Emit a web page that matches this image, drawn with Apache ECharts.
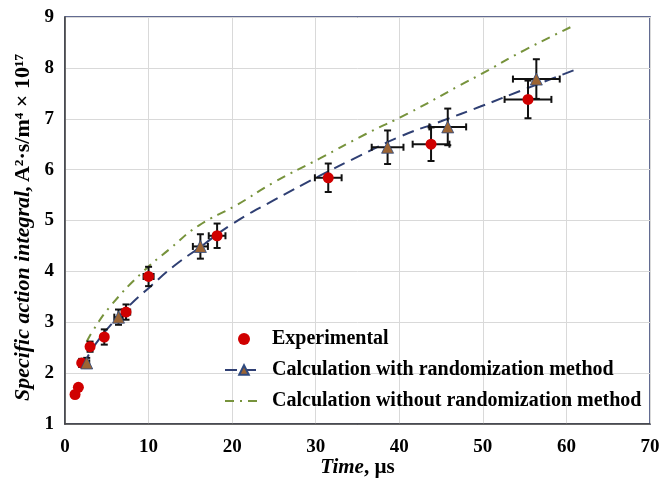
<!DOCTYPE html>
<html>
<head>
<meta charset="utf-8">
<script src="https://cdn.jsdelivr.net/npm/echarts@6/dist/echarts.min.js"></script>
<style>html,body{margin:0;padding:0;background:#fff}#c{width:660px;height:479px}</style>
</head>
<body>
<div id="c"></div>
<script>
// Experimental points: time (µs), value, x error, y error
const expX    = [1.2, 1.6, 2.0, 3.0, 4.7, 7.3, 10.0, 18.2, 31.5, 43.8, 55.4];
const expY    = [1.58, 1.72, 2.2, 2.52, 2.71, 3.2, 3.9, 4.7, 5.84, 6.5, 7.38];
const expXErr = [0.2, 0.2, 0.3, 0.3, 0.3, 0.5, 0.6, 1.0, 1.6, 2.2, 2.8];
const expYErr = [0.05, 0.05, 0.08, 0.1, 0.15, 0.15, 0.19, 0.24, 0.28, 0.33, 0.37];

// Calculation with randomization (triangles)
const triX    = [2.6, 6.4, 16.2, 38.6, 45.8, 56.4];
const triY    = [2.2, 3.1, 4.49, 6.44, 6.84, 7.78];
const triXErr = [0.3, 0.5, 0.9, 1.9, 2.2, 2.8];
const triYErr = [0.1, 0.15, 0.24, 0.33, 0.36, 0.39];

// Curve with randomization (dashed navy)
const withX = [2.2, 4.0, 7.6, 10.2, 13.0, 16.2, 19.9, 25.0, 30.5, 35.0, 40.1, 45.0, 49.7, 55.0, 61.0];
const withY = [2.16, 2.65, 3.31, 3.7, 4.1, 4.48, 4.92, 5.4, 5.88, 6.25, 6.65, 6.95, 7.24, 7.58, 7.96];

// Curve without randomization (dash-dot green)
const woX = [2.6, 3.4, 5.4, 9.25, 12.6, 16.0, 20.5, 25.0, 30.5, 36.0, 41.0, 47.3, 49.7, 55.0, 61.0];
const woY = [2.62, 2.85, 3.31, 3.98, 4.45, 4.9, 5.3, 5.75, 6.22, 6.7, 7.1, 7.66, 7.87, 8.35, 8.84];

const xTicks = [0, 10, 20, 30, 40, 50, 60, 70];
const yTicks = [1, 2, 3, 4, 5, 6, 7, 8, 9];

const FONT = '"Liberation Serif", "DejaVu Serif", serif';

function errData(xs, ys, exs, eys) {
  return xs.map((x, i) => [x, ys[i], exs[i], eys[i]]);
}
function errRender(params, api) {
  const x = api.value(0), y = api.value(1), ex = api.value(2), ey = api.value(3);
  const l = api.coord([x - ex, y]), r = api.coord([x + ex, y]);
  const t = api.coord([x, y + ey]), b = api.coord([x, y - ey]);
  const cap = 3.5;
  const st = { stroke: '#111', lineWidth: 2 };
  return {
    type: 'group',
    children: [
      { type: 'line', shape: { x1: l[0], y1: l[1], x2: r[0], y2: r[1] }, style: st },
      { type: 'line', shape: { x1: t[0], y1: t[1], x2: b[0], y2: b[1] }, style: st },
      { type: 'line', shape: { x1: l[0], y1: l[1] - cap, x2: l[0], y2: l[1] + cap }, style: st },
      { type: 'line', shape: { x1: r[0], y1: r[1] - cap, x2: r[0], y2: r[1] + cap }, style: st },
      { type: 'line', shape: { x1: t[0] - cap, y1: t[1], x2: t[0] + cap, y2: t[1] }, style: st },
      { type: 'line', shape: { x1: b[0] - cap, y1: b[1], x2: b[0] + cap, y2: b[1] }, style: st }
    ]
  };
}

const chart = echarts.init(document.getElementById('c'), null, { renderer: 'canvas' });
chart.setOption({
  animation: false,
  backgroundColor: '#fff',
  grid: { left: 65, right: 10, top: 17, bottom: 55, show: true, borderColor: '#2F3B6E', borderWidth: 1.5, backgroundColor: 'transparent', outerBoundsMode: 'none', containLabel: false },
  xAxis: {
    type: 'value', min: xTicks[0], max: xTicks[xTicks.length - 1], interval: 10,
    axisLine: { show: true, lineStyle: { color: '#404040', width: 1.5 } },
    axisTick: { show: false },
    splitLine: { show: true, lineStyle: { color: '#d9d9d9', width: 1 } },
    axisLabel: { margin: 14, color: '#000', fontFamily: FONT, fontWeight: 'bold', fontSize: 19 },
    name: '{i|Time}{n|, µs}', nameLocation: 'middle', nameGap: 33, nameMoveOverlap: false,
    nameTextStyle: { rich: {
      i: { fontFamily: FONT, fontStyle: 'italic', fontWeight: 'bold', fontSize: 21, lineHeight: 22, color: '#000' },
      n: { fontFamily: FONT, fontWeight: 'bold', fontSize: 21, lineHeight: 22, color: '#000' }
    } }
  },
  yAxis: {
    type: 'value', min: yTicks[0], max: yTicks[yTicks.length - 1], interval: 1,
    axisLine: { show: true, lineStyle: { color: '#404040', width: 1.5 } },
    axisTick: { show: false },
    splitLine: { show: true, lineStyle: { color: '#d9d9d9', width: 1 } },
    axisLabel: { margin: 11, color: '#000', fontFamily: FONT, fontWeight: 'bold', fontSize: 19 },
    name: '{i|Specific action integral,} {n|A²·s/m⁴ × 10¹⁷}', nameLocation: 'middle', nameGap: 31, nameMoveOverlap: false,
    nameTextStyle: { rich: {
      i: { fontFamily: FONT, fontStyle: 'italic', fontWeight: 'bold', fontSize: 22, color: '#000' },
      n: { fontFamily: FONT, fontWeight: 'bold', fontSize: 22, color: '#000', padding: [0, 14, 0, 0] }
    } }
  },
  legend: {
    orient: 'vertical', left: 224, top: 329, padding: 0,
    itemWidth: 38, itemHeight: 12, itemGap: 11,
    textStyle: { fontFamily: FONT, fontWeight: 'bold', fontSize: 20, color: '#000', padding: [0, 0, 0, 4] },
    data: [
      { name: 'Experimental', icon: 'circle' },
      'Calculation with randomization method',
      { name: 'Calculation without randomization method', itemStyle: { color: 'rgba(0,0,0,0)', borderColor: 'rgba(0,0,0,0)', borderWidth: 0 } }
    ]
  },
  series: [
    {
      name: 'Calculation without randomization method', type: 'line', smooth: true,
      data: woX.map((x, i) => [x, woY[i]]), symbol: 'none', z: 2,
      itemStyle: { color: '#77933C' },
      lineStyle: { color: '#77933C', width: 2, type: [9, 6, 2, 6] }
    },
    {
      name: 'Calculation with randomization method', type: 'line', smooth: true,
      data: withX.map((x, i) => ({ value: [x, withY[i]], symbol: 'none' })),
      symbol: 'triangle', symbolSize: 10, z: 2,
      itemStyle: { color: '#9C6433', borderColor: '#2F4A7F', borderWidth: 0.8 },
      lineStyle: { color: '#2F3F73', width: 2, type: [12, 7] }
    },
    {
      name: 'errExp', type: 'custom', renderItem: errRender, z: 3,
      data: errData(expX, expY, expXErr, expYErr), encode: { x: 0, y: 1 }
    },
    {
      name: 'errTri', type: 'custom', renderItem: errRender, z: 3,
      data: errData(triX, triY, triXErr, triYErr), encode: { x: 0, y: 1 }
    },
    {
      name: 'Experimental', type: 'scatter', symbol: 'circle', symbolSize: 11, z: 5,
      data: expX.map((x, i) => [x, expY[i]]),
      itemStyle: { color: '#D00000', opacity: 1 }
    },
    {
      name: 'triPts', type: 'scatter', symbol: 'triangle', symbolSize: 12, z: 5,
      data: triX.map((x, i) => [x, triY[i]]),
      itemStyle: { color: '#9C6433', borderColor: '#2F4A7F', borderWidth: 0.8, opacity: 1 }
    }
  ]
});
</script>
</body>
</html>
